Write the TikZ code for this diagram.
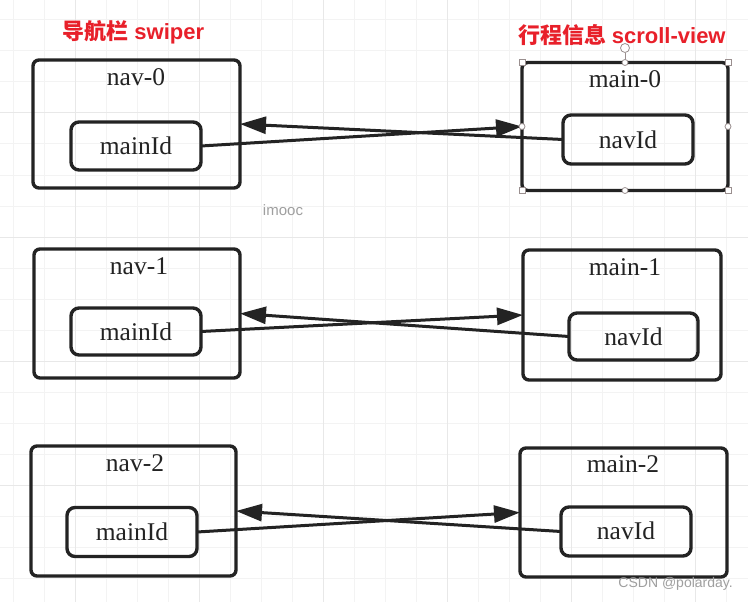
\documentclass[tikz,border=0pt]{standalone}
\usepackage{fontspec}
\setmainfont{Liberation Serif}
\newfontfamily\cjkfont{Noto Sans CJK SC}
\newfontfamily\marksans{Liberation Sans}
\usetikzlibrary{arrows.meta}
\definecolor{ink}{HTML}{232323}
\definecolor{titlered}{HTML}{E8202A}
\definecolor{gridminor}{HTML}{F3F3F3}
\definecolor{gridmajor}{HTML}{E8E8E8}
\definecolor{handlecol}{HTML}{9A8F8F}
\begin{document}
\begin{tikzpicture}[x=1pt,y=-1pt,
  outerbox/.style={draw=ink, line width=3.4pt, rounded corners=6pt, inner sep=0pt, outer sep=0pt},
  innerbox/.style={draw=ink, line width=3.4pt, rounded corners=8pt, inner sep=0pt, outer sep=0pt, minimum width=130pt},
  lbl/.style={font=\fontsize{25.5}{28}\selectfont, text=ink, inner sep=0pt},
  titletxt/.style={font=\fontsize{22}{26}\selectfont, text=titlered, inner sep=0pt},
  arr/.style={draw=ink, line width=3pt, -{Triangle[length=26pt,width=17pt]}},
  hsq/.style={draw=handlecol, fill=white, line width=0.8pt, minimum size=6pt, inner sep=0pt},
  hci/.style={circle, draw=handlecol, fill=white, line width=0.8pt, minimum size=6pt, inner sep=0pt},
  wmark/.style={inner sep=0pt, text=gray!75}
]
\fill[white] (0,0) rectangle (748,602);
\useasboundingbox (0,0) rectangle (748,602);
% faint background grid
\foreach \x in {13,44,...,748} \draw[gridminor, line width=1pt] (\x,0) -- (\x,602);
\foreach \y in {20,51,...,602} \draw[gridminor, line width=1pt] (0,\y) -- (748,\y);
\foreach \x in {75,199,323,447,571,695} \draw[gridmajor, line width=1pt] (\x,0) -- (\x,602);
\foreach \y in {113,237,361,485} \draw[gridmajor, line width=1pt] (0,\y) -- (748,\y);

% titles
\node[titletxt] (t1) at (133.5,32) {{\cjkfont\bfseries 导航栏} {\marksans\bfseries swiper}};
\node[titletxt] (t2) at (622,35) {{\cjkfont\bfseries 行程信息} {\marksans\bfseries scroll-view}};

% row 0
\node[outerbox, minimum width=207pt, minimum height=128pt] (nav0) at (136.5,124) {};
\node[lbl] (nav0t) at (136,77) {nav-0};
\node[innerbox, minimum height=48pt] (mid0) at (136,146) {};
\node[lbl] (mid0t) at (136,146) {mainId};
\node[outerbox, minimum width=206pt, minimum height=128pt] (main0) at (625,126.5) {};
\node[lbl] (main0t) at (625,79) {main-0};
\node[innerbox, minimum height=49pt] (nid0) at (628,139.5) {};
\node[lbl] (nid0t) at (628,140) {navId};
\draw[arr] (mid0.east) -- (main0.west);
\draw[arr] (nid0.west) -- (nav0.east);

% row 1
\node[outerbox, minimum width=206pt, minimum height=129pt] (nav1) at (137,313.5) {};
\node[lbl] (nav1t) at (139,266) {nav-1};
\node[innerbox, minimum height=47pt] (mid1) at (136,331.5) {};
\node[lbl] (mid1t) at (136,331.5) {mainId};
\node[outerbox, minimum width=198pt, minimum height=130pt] (main1) at (622,315) {};
\node[lbl] (main1t) at (625,267) {main-1};
\node[innerbox, minimum height=47pt, minimum width=129pt] (nid1) at (633.5,336.5) {};
\node[lbl] (nid1t) at (633.5,336.5) {navId};
\draw[arr] (mid1.east) -- (main1.west);
\draw[arr] (nid1.west) -- (nav1.east);

% row 2
\node[outerbox, minimum width=205pt, minimum height=130pt] (nav2) at (133.5,511) {};
\node[lbl] (nav2t) at (135,463) {nav-2};
\node[innerbox, minimum height=49pt] (mid2) at (132,532) {};
\node[lbl] (mid2t) at (132,532) {mainId};
\node[outerbox, minimum width=207pt, minimum height=129pt] (main2) at (623.5,512.5) {};
\node[lbl] (main2t) at (623,464) {main-2};
\node[innerbox, minimum height=49pt] (nid2) at (626,531.5) {};
\node[lbl] (nid2t) at (626,531) {navId};
\draw[arr] (mid2.east) -- (main2.west);
\draw[arr] (nid2.west) -- (nav2.east);

% selection handles on main-0
\node[hci, minimum size=9pt] (rot) at (625,48) {};
\draw[handlecol, line width=0.8pt] (rot.south) -- (main0.north);
\node[hsq] (hnw) at (main0.north west) {};
\node[hsq] (hne) at (main0.north east) {};
\node[hsq] (hsw) at (main0.south west) {};
\node[hsq] (hse) at (main0.south east) {};
\node[hci] (hn) at (main0.north) {};
\node[hci] (hs) at (main0.south) {};
\node[hci] (hw) at (main0.west) {};
\node[hci] (he) at (main0.east) {};

% watermarks
\node[wmark, font=\marksans\fontsize{15}{17}\selectfont] (wm1) at (283,210) {imooc};
\node[wmark, font=\marksans\fontsize{14}{16}\selectfont, anchor=east] (wm2) at (733,584) {CSDN @polarday.};
\end{tikzpicture}
\end{document}
